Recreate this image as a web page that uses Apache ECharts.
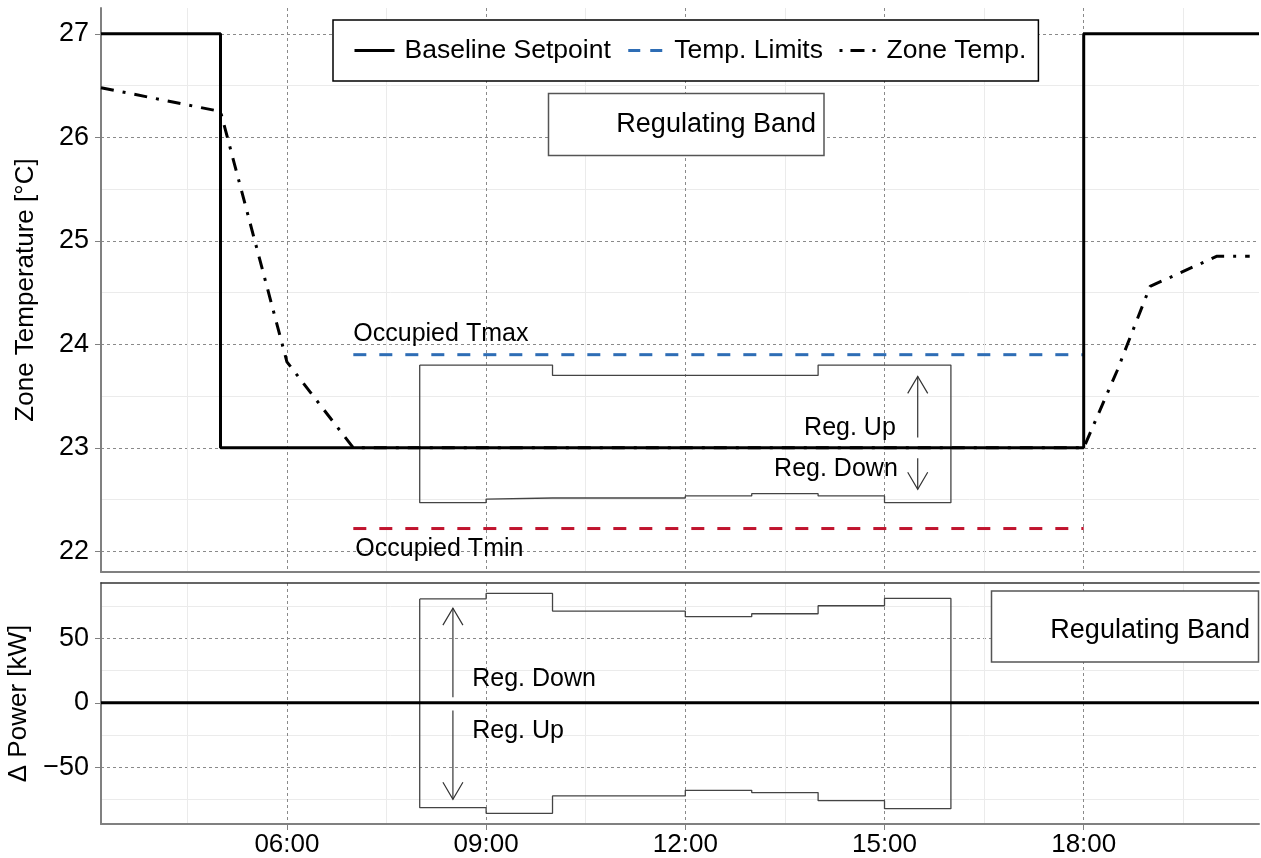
<!DOCTYPE html>
<html>
<head>
<meta charset="utf-8">
<title>Zone temperature and regulating band</title>
<script src="https://cdn.jsdelivr.net/npm/echarts@6/dist/echarts.min.js"></script>
<style>
  html, body { margin: 0; padding: 0; background: #fff; }
  #chart { width: 1261px; height: 858px; }
</style>
</head>
<body>
<div id="chart"></div>
<script>
// time runs in decimal hours
const xMin = 3.2;
const xMax = 20.64;
const hourTicks = [6, 9, 12, 15, 18];
const hourMinorTicks = [4.5, 7.5, 10.5, 13.5, 16.5, 19.5];

const tempTicks = [22, 23, 24, 25, 26, 27];
const tempMinorTicks = [22.5, 23.5, 24.5, 25.5, 26.5];
const powerTicks = [-50, 0, 50];
const powerMinorTicks = [-75, -25, 25, 75];

// baseline setpoint, drawn as a step (value holds until next hour)
const setpointHours = [3.2, 5, 18, 20.64];
const setpointTemps = [27, 23, 27, 27];

// zone temperature
const zoneHours = [3.2, 5, 6, 7, 18, 18.5, 19, 20, 20.5];
const zoneTemps = [26.48, 26.25, 23.83, 23.0, 23.0, 23.74, 24.56, 24.85, 24.85];

// occupied limits
const occupiedHours = [7, 18];
const occupiedTmax = [23.9, 23.9];
const occupiedTmin = [22.22, 22.22];

// regulating band, hourly from 08:00 until 16:00
const bandHours = [8, 9, 10, 11, 12, 13, 14, 15];
const bandEnd = 16;
const bandTempUpper = [23.8, 23.8, 23.7, 23.7, 23.7, 23.7, 23.8, 23.8];
const bandTempLower = [22.47, 22.505, 22.515, 22.515, 22.535, 22.557, 22.535, 22.47];
const bandPowerUpper = [80.8, 85.1, 71.4, 71.4, 67.0, 69.3, 75.5, 81.2];
const bandPowerLower = [-81.5, -85.9, -72.4, -72.4, -68.0, -69.8, -76.1, -82.3];

// baseline power change
const powerHours = [3.2, 20.64];
const powerBase = [0, 0];

// arrows: [hour, from, to]
const tempArrows = [[15.5, 23.1, 23.69], [15.5, 22.9, 22.6]];
const powerArrows = [[8.5, 4.4, 73.7], [8.5, -6, -75]];

// text labels: [hour, value, text]
const tempLabelsLeft = [[7.0, 24.1, 'Occupied Tmax'], [7.03, 22.02, 'Occupied Tmin']];
const tempLabelsRight = [[15.17, 23.19, 'Reg. Up'], [15.2, 22.79, 'Reg. Down']];
const powerLabelsLeft = [[8.79, 18.5, 'Reg. Down'], [8.79, -21.8, 'Reg. Up']];

const FONT = '"Liberation Sans", Arial, sans-serif';
const AXIS_GREY = '#808080';
const LIMIT_BLUE = '#2e6db5';
const LIMIT_RED = '#c0142e';
const ZONE_DASH = [13, 9, 3, 9];
const LIMIT_DASH = [13, 13];

function zip(xs, ys) {
  return xs.map((x, i) => [x, ys[i]]);
}

// closed outline of a stepped band
function bandOutline(hours, upper, lower, end) {
  const pts = [];
  hours.forEach((h, i) => {
    const next = i + 1 < hours.length ? hours[i + 1] : end;
    pts.push([h, upper[i]], [next, upper[i]]);
  });
  for (let i = hours.length - 1; i >= 0; i--) {
    const next = i + 1 < hours.length ? hours[i + 1] : end;
    pts.push([next, lower[i]], [hours[i], lower[i]]);
  }
  pts.push([hours[0], upper[0]]);
  return pts;
}

function renderArrow(params, api) {
  const from = api.coord([api.value(0), api.value(1)]);
  const to = api.coord([api.value(0), api.value(2)]);
  const dir = to[1] < from[1] ? -1 : 1;
  const style = { stroke: '#333', lineWidth: 1.2, fill: null };
  return {
    type: 'group',
    children: [
      { type: 'polyline', shape: { points: [from, to] }, style: style },
      {
        type: 'polyline',
        shape: { points: [[to[0] - 10, to[1] - dir * 17], to, [to[0] + 10, to[1] - dir * 17]] },
        style: style
      }
    ]
  };
}

function textRenderer(align) {
  return function (params, api) {
    const p = api.coord([api.value(0), api.value(1)]);
    return {
      type: 'text',
      x: p[0],
      y: p[1],
      style: {
        text: api.value(2),
        fontSize: 25,
        fontFamily: FONT,
        fill: '#000',
        align: align,
        verticalAlign: 'middle'
      }
    };
  };
}

function majorX(gridIndex, showLabels) {
  return {
    type: 'value', gridIndex: gridIndex, min: xMin, max: xMax,
    position: 'bottom',
    axisLine: { show: true, onZero: false, lineStyle: { color: AXIS_GREY, width: 2 } },
    axisTick: { show: showLabels, customValues: hourTicks, length: 6, lineStyle: { color: AXIS_GREY } },
    axisLabel: {
      show: showLabels, customValues: hourTicks, margin: 8,
      fontSize: 26, fontFamily: FONT, color: '#000',
      formatter: v => String(v).padStart(2, '0') + ':00'
    },
    splitLine: { show: true, lineStyle: { color: '#8a8a8a', type: [3, 3], width: 1 } }
  };
}

function minorX(gridIndex, topBorder) {
  return {
    type: 'value', gridIndex: gridIndex, min: xMin, max: xMax,
    position: 'top',
    axisLine: { show: topBorder, onZero: false, lineStyle: { color: '#333', width: 1.5 } },
    axisTick: { show: false, customValues: hourMinorTicks },
    axisLabel: { show: false },
    splitLine: { show: true, lineStyle: { color: '#ebebeb', width: 1 } }
  };
}

function majorY(gridIndex, min, max, ticks, name, gap) {
  return {
    type: 'value', gridIndex: gridIndex, min: min, max: max,
    position: 'left',
    name: name, nameLocation: 'middle', nameRotate: 90, nameGap: gap,
    nameTextStyle: { fontSize: 26, fontFamily: FONT, color: '#000' },
    axisLine: { show: true, onZero: false, lineStyle: { color: AXIS_GREY, width: 2 } },
    axisTick: { show: true, customValues: ticks, length: 6, lineStyle: { color: AXIS_GREY } },
    axisLabel: {
      customValues: ticks, margin: 12,
      fontSize: 27, fontFamily: FONT, color: '#000',
      formatter: v => (v < 0 ? '\u2212' + (-v) : String(v))
    },
    splitLine: { show: true, lineStyle: { color: '#8a8a8a', type: [3, 3], width: 1 } }
  };
}

function minorY(gridIndex, min, max, ticks) {
  return {
    type: 'value', gridIndex: gridIndex, min: min, max: max,
    position: 'right',
    axisLine: { show: false },
    axisTick: { show: false, customValues: ticks },
    axisLabel: { show: false },
    splitLine: { show: true, lineStyle: { color: '#ebebeb', width: 1 } }
  };
}

const noMarker = { opacity: 0 };

const chart = echarts.init(document.getElementById('chart'));

const option = {
  animation: false,
  backgroundColor: '#fff',
  grid: [
    { left: 101, top: 8, width: 1158, height: 564, outerBoundsMode: 'none' },
    { left: 101, top: 583, width: 1158, height: 241, outerBoundsMode: 'none' }
  ],
  xAxis: [majorX(0, false), minorX(0, false), majorX(1, true), minorX(1, true)],
  yAxis: [
    majorY(0, 21.8, 27.25, tempTicks, 'Zone Temperature [°C]', 62),
    minorY(0, 21.8, 27.25, tempMinorTicks),
    majorY(1, -94.2, 93.2, powerTicks, '\u0394 Power [kW]', 59),
    minorY(1, -94.2, 93.2, powerMinorTicks)
  ],
  legend: {
    data: [
      { name: 'Baseline Setpoint', itemStyle: noMarker, lineStyle: { color: '#000', width: 3 } },
      { name: 'Temp. Limits', itemStyle: noMarker, lineStyle: { color: LIMIT_BLUE, width: 3, type: [12, 10], dashOffset: -4 } },
      { name: 'Zone Temp.', itemStyle: noMarker, lineStyle: { color: '#000', width: 3, type: [3, 8, 14, 8, 3, 30], dashOffset: -3 } }
    ],
    left: 333, top: 20,
    itemWidth: 40, itemHeight: 14, itemGap: 12,
    padding: [17, 12, 17, 20],
    borderColor: '#000', borderWidth: 1.5,
    backgroundColor: '#fff',
    textStyle: { fontSize: 26.5, fontFamily: FONT, color: '#000', padding: [0, 0, 0, 5] }
  },
  graphic: [
    {
      type: 'rect', z: 100,
      shape: { x: 548.5, y: 93.5, width: 275.5, height: 62 },
      style: { fill: '#fff', stroke: '#555', lineWidth: 1.5 }
    },
    {
      type: 'text', z: 101, x: 816, y: 124.5,
      style: { text: 'Regulating Band', fontSize: 27, fontFamily: FONT, fill: '#000', align: 'right', verticalAlign: 'middle' }
    },
    {
      type: 'rect', z: 100,
      shape: { x: 991.5, y: 591, width: 267, height: 71 },
      style: { fill: '#fff', stroke: '#555', lineWidth: 1.5 }
    },
    {
      type: 'text', z: 101, x: 1250, y: 631,
      style: { text: 'Regulating Band', fontSize: 27, fontFamily: FONT, fill: '#000', align: 'right', verticalAlign: 'middle' }
    }
  ],
  series: [
    {
      name: 'Zone Temp.', type: 'line', xAxisIndex: 0, yAxisIndex: 0,
      data: zip(zoneHours, zoneTemps), symbol: 'none', z: 2,
      lineStyle: { color: '#000', width: 3, type: ZONE_DASH },
      itemStyle: { color: '#000' }
    },
    {
      name: 'Baseline Setpoint', type: 'line', xAxisIndex: 0, yAxisIndex: 0,
      data: zip(setpointHours, setpointTemps), step: 'end', symbol: 'none', z: 4,
      lineStyle: { color: '#000', width: 3 },
      itemStyle: { color: '#000' }
    },
    {
      name: 'Temp. Limits', type: 'line', xAxisIndex: 0, yAxisIndex: 0,
      data: zip(occupiedHours, occupiedTmax), symbol: 'none', z: 3,
      lineStyle: { color: LIMIT_BLUE, width: 3, type: LIMIT_DASH },
      itemStyle: { color: LIMIT_BLUE }
    },
    {
      name: 'Occupied Tmin', type: 'line', xAxisIndex: 0, yAxisIndex: 0,
      data: zip(occupiedHours, occupiedTmin), symbol: 'none', z: 3,
      lineStyle: { color: LIMIT_RED, width: 3, type: LIMIT_DASH },
      itemStyle: { color: LIMIT_RED }
    },
    {
      name: 'Temperature band', type: 'line', xAxisIndex: 0, yAxisIndex: 0,
      data: bandOutline(bandHours, bandTempUpper, bandTempLower, bandEnd),
      symbol: 'none', z: 3,
      lineStyle: { color: '#444', width: 1.3 }
    },
    {
      name: 'Temperature arrows', type: 'custom', xAxisIndex: 0, yAxisIndex: 0,
      data: tempArrows, renderItem: renderArrow, z: 5, silent: true
    },
    {
      name: 'Temperature labels left', type: 'custom', xAxisIndex: 0, yAxisIndex: 0,
      data: tempLabelsLeft, renderItem: textRenderer('left'), z: 5, silent: true
    },
    {
      name: 'Temperature labels right', type: 'custom', xAxisIndex: 0, yAxisIndex: 0,
      data: tempLabelsRight, renderItem: textRenderer('right'), z: 5, silent: true
    },
    {
      name: 'Baseline Power', type: 'line', xAxisIndex: 2, yAxisIndex: 2,
      data: zip(powerHours, powerBase), symbol: 'none', z: 4,
      lineStyle: { color: '#000', width: 3 }
    },
    {
      name: 'Power band', type: 'line', xAxisIndex: 2, yAxisIndex: 2,
      data: bandOutline(bandHours, bandPowerUpper, bandPowerLower, bandEnd),
      symbol: 'none', z: 3,
      lineStyle: { color: '#444', width: 1.3 }
    },
    {
      name: 'Power arrows', type: 'custom', xAxisIndex: 2, yAxisIndex: 2,
      data: powerArrows, renderItem: renderArrow, z: 5, silent: true
    },
    {
      name: 'Power labels', type: 'custom', xAxisIndex: 2, yAxisIndex: 2,
      data: powerLabelsLeft, renderItem: textRenderer('left'), z: 5, silent: true
    }
  ]
};

chart.setOption(option);
</script>
</body>
</html>
